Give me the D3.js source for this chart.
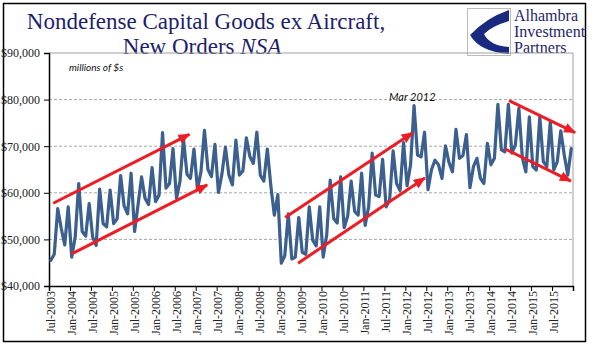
<!DOCTYPE html>
<html><head><meta charset="utf-8">
<script src="https://cdn.jsdelivr.net/npm/d3@7"></script>
<style>body{margin:0;background:#fff}</style>
</head><body>
<svg id="c" width="596" height="358"></svg>
<script>
// Monthly new orders, millions of $, NSA, Jul-2003 .. Dec-2015
const orders2003 = [45500, 46800, 56600, 52400, 48800, 57000];
const orders2004 = [46200, 50500, 62000, 51700, 50700, 57700, 50500, 48700, 60800, 53400, 52700, 60600];
const orders2005 = [53400, 54400, 63700, 57200, 55500, 64200, 51700, 57500, 63400, 58800, 57500, 65400];
const orders2006 = [58100, 59500, 72900, 61000, 62000, 69500, 58800, 62500, 71500, 64000, 63100, 69400];
const orders2007 = [60800, 64500, 73400, 65000, 63500, 70400, 60100, 64000, 69800, 63800, 61700, 71300];
const orders2008 = [63800, 64700, 71800, 67800, 66300, 73000, 63800, 62500, 69400, 61500, 55200, 59600];
const orders2009 = [44900, 46500, 55500, 45800, 46200, 54700, 47200, 46800, 57000, 49800, 48600, 57000];
const orders2010 = [46200, 51000, 62700, 54500, 53500, 63400, 52500, 55000, 62500, 56000, 55200, 64200];
const orders2011 = [53000, 57000, 68500, 59500, 59200, 67200, 57000, 58500, 69000, 62000, 60500, 70800];
const orders2012 = [61500, 66000, 78700, 68100, 67700, 73000, 60700, 65000, 67000, 66000, 63100, 70100];
const orders2013 = [66500, 64500, 73600, 67400, 68000, 72500, 61100, 65600, 67400, 63100, 62000, 70600];
const orders2014 = [66000, 67400, 79000, 69200, 68800, 79000, 68500, 70300, 78100, 67500, 64500, 76300];
const orders2015 = [65600, 64900, 76300, 66700, 65600, 75300, 64900, 66700, 73300, 68100, 63800, 69500];
const orders = [].concat(orders2003, orders2004, orders2005, orders2006, orders2007, orders2008,
  orders2009, orders2010, orders2011, orders2012, orders2013, orders2014, orders2015);

const yTicks = [40000, 50000, 60000, 70000, 80000, 90000];
const tickLabels = ["Jul-2003","Jan-2004","Jul-2004","Jan-2005","Jul-2005","Jan-2006","Jul-2006",
  "Jan-2007","Jul-2007","Jan-2008","Jul-2008","Jan-2009","Jul-2009","Jan-2010","Jul-2010",
  "Jan-2011","Jul-2011","Jan-2012","Jul-2012","Jan-2013","Jul-2013","Jan-2014","Jul-2014",
  "Jan-2015","Jul-2015"];
// trend arrows: [fromMonthIndex, fromValue, toMonthIndex, toValue]
const trendArrows = [
  [0.7, 57750, 39.7, 72550],
  [6.0, 46900, 44.8, 61700],
  [67.1, 54700, 103.6, 72900],
  [70.8, 44900, 107.1, 63200],
  [131.2, 79800, 150.1, 72900],
  [130.1, 69400, 148.9, 62500]
];

const svg = d3.select("#c");
const L = 49, R = 573, T = 53, B = 286;
const n = orders.length;
const x = d3.scaleLinear().domain([-0.5, n - 0.5]).range([L, R]);
const y = d3.scaleLinear().domain([40000, 90000]).range([B, T]);

// outer frame
svg.append("rect").attr("x", 3.5).attr("y", 3.5).attr("width", 582).attr("height", 338)
  .attr("fill", "#fff").attr("stroke", "#000").attr("stroke-width", 1.5);

// title
const navy = "#1e1e6e";
svg.append("text").attr("x", 206).attr("y", 29).attr("text-anchor", "middle")
  .attr("font-family", "'Liberation Serif', 'Times New Roman', serif").attr("font-size", 23)
  .attr("fill", navy).text("Nondefense  Capital Goods ex Aircraft,");
const t2 = svg.append("text").attr("x", 202).attr("y", 54).attr("text-anchor", "middle")
  .attr("font-family", "'Liberation Serif', 'Times New Roman', serif").attr("font-size", 23)
  .attr("fill", navy);
t2.append("tspan").text("New Orders ");
t2.append("tspan").attr("font-style", "italic").text("NSA");

// logo
const lg = svg.append("g");
lg.append("rect").attr("x", 467.5).attr("y", 8.5).attr("width", 43).attr("height", 47)
  .attr("fill", "#fff").attr("stroke", "#bbb").attr("stroke-width", 1);
lg.append("path").attr("fill", "#1a2a80")
  .attr("d", "M509,10 L509,21 Q492,26 484,34 Q490,46 509,47 L509,54 Q480,52 470,35 Q486,18 509,10 Z");
["Alhambra", "Investment", "Partners"].forEach((s, i) => {
  lg.append("text").attr("x", 514).attr("y", 21 + i * 16)
    .attr("font-family", "'Liberation Serif', 'Times New Roman', serif").attr("font-size", 16)
    .attr("fill", navy).text(s);
});

// gridlines
svg.append("g").selectAll("line").data(yTicks.filter(v => v > 40000 && v < 90000)).join("line")
  .attr("x1", L).attr("x2", R).attr("y1", d => y(d)).attr("y2", d => y(d))
  .attr("stroke", "#a8a8a8").attr("stroke-width", 1).attr("stroke-dasharray", "3,2");
// plot area border (top/right)
svg.append("path").attr("d", `M${L},${T}H${R}V${B}`).attr("fill", "none")
  .attr("stroke", "#a0a0a0").attr("stroke-width", 1);

// y axis
const yAxis = d3.axisLeft(y).tickValues(yTicks).tickSize(5).tickPadding(4)
  .tickFormat(d => "$" + d3.format(",")(d));
const gy = svg.append("g").attr("transform", `translate(${L},0)`).call(yAxis);
gy.select(".domain").attr("stroke", "#000").attr("stroke-width", 1.5);
gy.selectAll(".tick line").attr("stroke", "#000");
gy.selectAll("text").attr("font-family", "'Liberation Serif', 'Times New Roman', serif")
  .attr("font-size", 12).attr("fill", "#222");

// x axis
const tickPos = d3.range(0, n + 1, 6);
const xAxis = d3.axisBottom(x).tickValues(tickPos.map(i => i - 0.5)).tickSize(5).tickFormat("");
const gx = svg.append("g").attr("transform", `translate(0,${B})`).call(xAxis);
gx.select(".domain").attr("stroke", "#000").attr("stroke-width", 1.5);
gx.selectAll(".tick line").attr("stroke", "#000");
svg.append("g").selectAll("text").data(tickLabels).join("text")
  .attr("transform", (d, k) => `translate(${x(k * 6) + 4},${B + 5}) rotate(-90)`)
  .attr("text-anchor", "end")
  .attr("font-family", "'Liberation Serif', 'Times New Roman', serif").attr("font-size", 12)
  .attr("fill", "#222").text(d => d);

// series line
const line = d3.line().x((d, i) => x(i)).y(d => y(d));
svg.append("path").datum(orders).attr("d", line).attr("fill", "none")
  .attr("stroke", "#3b5f8e").attr("stroke-width", 3.2).attr("stroke-linejoin", "round")
  .attr("stroke-linecap", "round");

// arrows
svg.append("defs").append("marker").attr("id", "ah").attr("markerUnits", "userSpaceOnUse")
  .attr("markerWidth", 14).attr("markerHeight", 12).attr("refX", 11).attr("refY", 5)
  .attr("orient", "auto")
  .append("path").attr("d", "M0,0 L12,5 L0,10 Z").attr("fill", "#ee1c24");
svg.append("g").selectAll("line").data(trendArrows).join("line")
  .attr("x1", d => x(d[0])).attr("y1", d => y(d[1]))
  .attr("x2", d => x(d[2])).attr("y2", d => y(d[3]))
  .attr("stroke", "#ee1c24").attr("stroke-width", 3).attr("marker-end", "url(#ah)");

// annotations
svg.append("text").attr("x", 69).attr("y", 71)
  .attr("font-family", "Lato, 'Open Sans', sans-serif").attr("font-style", "italic")
  .attr("font-size", 10).attr("fill", "#111").text("millions of $s");
svg.append("text").attr("x", 389).attr("y", 101)
  .attr("font-family", "Lato, 'Open Sans', sans-serif").attr("font-style", "italic")
  .attr("font-size", 11).attr("fill", "#111").text("Mar 2012");
</script>
</body></html>
